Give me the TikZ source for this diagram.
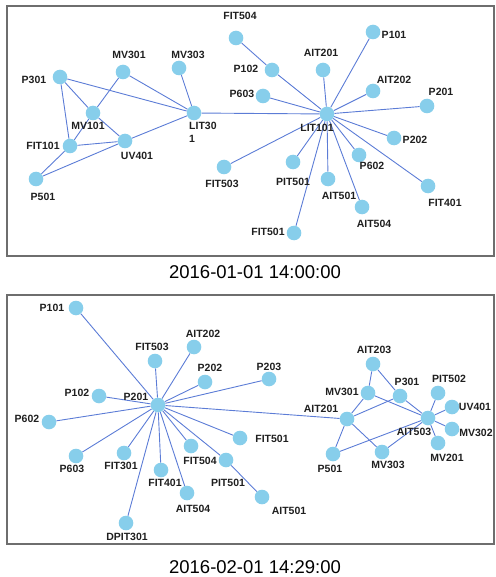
\documentclass[tikz,border=0pt]{standalone}
\usepackage{fontspec}
\setmainfont{Liberation Sans}
\usetikzlibrary{backgrounds}
\definecolor{nodeblue}{RGB}{135,206,235}
\definecolor{edgeblue}{RGB}{92,124,214}
\definecolor{framegray}{RGB}{110,110,110}
\begin{document}
\begin{tikzpicture}[x=1pt,y=-1pt,
  nd/.style={circle,fill=nodeblue,minimum size=14.6pt,inner sep=0pt},
  lbl/.style={font=\fontsize{10.5}{13}\selectfont\bfseries,inner sep=0pt,text=black!88},
  ttl/.style={font=\fontsize{18.5}{22}\selectfont,inner sep=0pt,text=black},
  ed/.style={draw=edgeblue,line width=0.9pt},
  frm/.style={draw=framegray,line width=1.2pt}]
\useasboundingbox (0,0) rectangle (495,577);
\draw[frm] (7,6) rectangle (494,256);
\draw[frm] (7,295) rectangle (494,544);
\node[ttl] (t1) at (255,272) {2016-01-01 14:00:00};
\node[ttl] (t2) at (255,567) {2016-02-01 14:29:00};

% ---------- panel 1 ----------
\foreach \n/\x/\y/\lx/\ly in {
  P301/60/77/34/80, MV301/123/72/129/55, MV303/179/68/188/55,
  MV101/93/113/88/126, FIT101/70/146/43/146, UV401/125/141/137/156,
  P501/36/179/43/197, FIT503/224/167/222/184, FIT504/236/38/240/16,
  P102/272/70/246/69, AIT201/323/70/321/53, P101/373/32/394/35,
  AIT202/373/91/394/80, P603/263/96/242/94, LIT101/327/114/317/128,
  P201/427/106/441/92, P202/394/138/415/140, P602/359/155/372/166,
  FIT401/428/186/445/203, PIT501/293/162/293/182, AIT501/328/179/339/196,
  AIT504/362/207/374/224, FIT501/294/233/268/232}
{
  \node[nd] (a-\n) at (\x,\y) {};
  \node[lbl] (la-\n) at (\lx,\ly) {\n};
}
\node[nd] (a-LIT301) at (194,113) {};
\node[lbl,anchor=north west,align=left] (la-LIT301) at (189,121.5) {LIT30\\1};

\begin{scope}[on background layer]
\foreach \a/\b in {P301/MV101, P301/FIT101, P301/LIT301, MV301/MV101,
  MV101/FIT101, MV301/LIT301, MV303/LIT301, MV101/UV401, FIT101/UV401,
  FIT101/P501, P501/UV401, UV401/LIT301, LIT301/LIT101,
  FIT504/P102, P102/LIT101, AIT201/LIT101, P101/LIT101, AIT202/LIT101,
  P603/LIT101, P201/LIT101, P202/LIT101, P602/LIT101, FIT401/LIT101,
  PIT501/LIT101, AIT501/LIT101, AIT504/LIT101, FIT501/LIT101, FIT503/LIT101}
  \draw[ed] (a-\a) -- (a-\b);
\end{scope}

% ---------- panel 2 ----------
\foreach \n/\x/\y/\lx/\ly in {
  P101/76/308/52/308, FIT503/155/361/152/347, AIT202/194/347/203/334,
  P202/205/382/210/368, P102/99/396/77/393, P201/158/405/136/397,
  P602/49/422/27/419, P603/76/456/72/469, FIT301/124/453/121/466,
  FIT401/161/470/165/483, AIT504/187/493/193/509, DPIT301/126/523/127/537,
  FIT504/191/446/200/461, PIT501/226/460/228/483, FIT501/240/438/272/439,
  P203/269/379/269/367, AIT501/262/497/289/511, AIT201/347/419/321/409,
  AIT203/373/364/374/350, MV301/368/393/342/392, P301/400/396/407/382,
  PIT502/438/393/449/379, UV401/452/407/475/407, AIT503/428/418/414/432,
  MV302/452/429/476/433, MV201/438/443/447/458, P501/333/454/330/469,
  MV303/382/452/388/465}
{
  \node[nd] (b-\n) at (\x,\y) {};
  \node[lbl] (lb-\n) at (\lx,\ly) {\n};
}

\begin{scope}[on background layer]
\foreach \a/\b in {P201/P101, P201/FIT503, P201/AIT202, P201/P202,
  P201/P203, P201/P102, P201/P602, P201/P603, P201/FIT301, P201/FIT401,
  P201/AIT504, P201/DPIT301, P201/FIT504, P201/PIT501, P201/FIT501,
  P201/AIT201, PIT501/AIT501,
  AIT201/MV301, AIT201/P301, AIT201/P501, AIT201/MV303,
  AIT203/MV301, AIT203/P301, MV301/AIT503, P301/AIT503,
  AIT503/PIT502, AIT503/UV401, AIT503/MV302, AIT503/MV201,
  AIT503/MV303, AIT503/P501}
  \draw[ed] (b-\a) -- (b-\b);
\end{scope}
\end{tikzpicture}
\end{document}
